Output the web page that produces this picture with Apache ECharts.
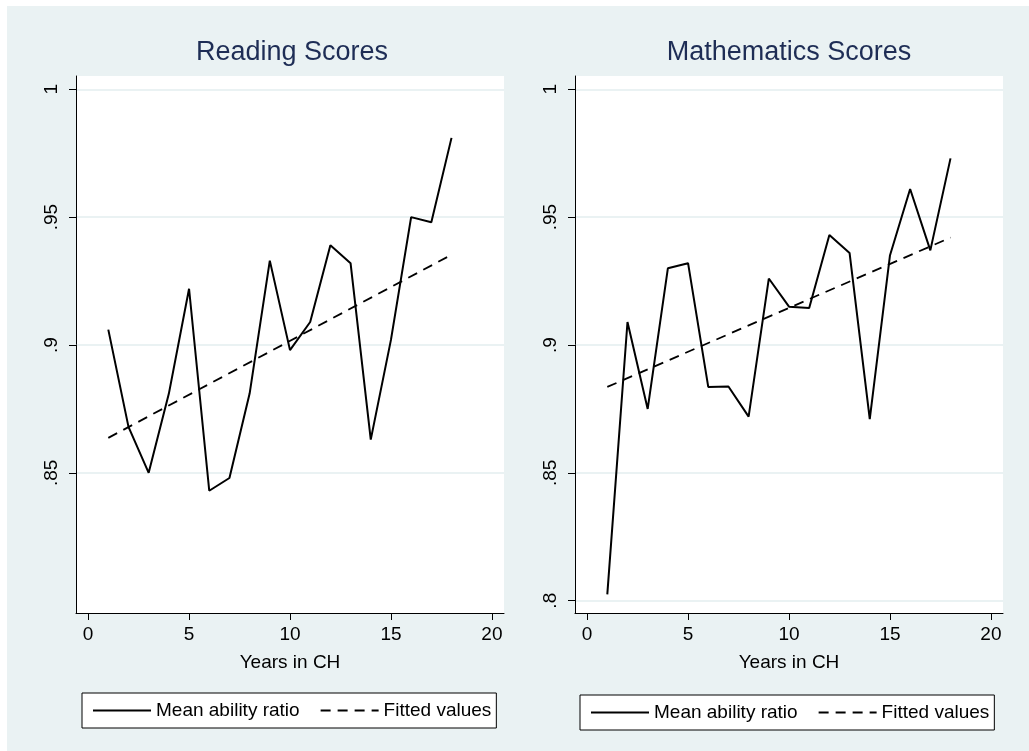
<!DOCTYPE html>
<html>
<head>
<meta charset="utf-8">
<script src="https://cdn.jsdelivr.net/npm/echarts@6/dist/echarts.min.js"></script>
<style>
  html, body { margin: 0; padding: 0; background: #fff; }
  #bg { position: absolute; left: 7px; top: 6px; right: 0; bottom: 0; background: #eaf2f3; }
  #chart { position: absolute; left: 0; top: 0; width: 1029px; height: 751px; }
</style>
</head>
<body>
<div id="bg"></div>
<div id="chart"></div>
<script>
var years = [1, 2, 3, 4, 5, 6, 7, 8, 9, 10, 11, 12, 13, 14, 15, 16, 17, 18];
var readingRatio = [0.906, 0.868, 0.850, 0.881, 0.922, 0.843, 0.848, 0.881, 0.933,
  0.898, 0.909, 0.939, 0.932, 0.863, 0.902, 0.950, 0.948, 0.981];
var mathRatio = [0.8025, 0.909, 0.875, 0.930, 0.932, 0.8836, 0.8838, 0.872, 0.926,
  0.915, 0.9145, 0.943, 0.936, 0.871, 0.935, 0.961, 0.937, 0.973];
var fitYears = [1, 18];
var readingFit = [0.8637, 0.9353];
var mathFit = [0.8836, 0.942];

var xTicks = [0, 5, 10, 15, 20];
var readingTicks = [0.85, 0.9, 0.95, 1];
var mathTicks = [0.8, 0.85, 0.9, 0.95, 1];

var titles = ["Reading Scores", "Mathematics Scores"];
var seriesNames = ["Mean ability ratio", "Fitted values"];

function pairs(xs, ys) {
  return xs.map(function (x, i) { return [x, ys[i]]; });
}

var font = "Liberation Sans, Arial, sans-serif";

function xAxisFor(idx) {
  return {
    type: "value",
    gridIndex: idx,
    min: -0.6,
    max: 20.6,
    name: "Years in CH",
    nameLocation: "middle",
    nameGap: 40,
    nameTextStyle: { color: "#000", fontSize: 19, fontFamily: font },
    axisLine: { show: true, onZero: false, lineStyle: { color: "#000", width: 1 } },
    axisTick: { show: true, length: 7, customValues: xTicks, lineStyle: { color: "#000", width: 1 } },
    axisLabel: { customValues: xTicks, margin: 12, color: "#000", fontSize: 19, fontFamily: font },
    splitLine: { show: false }
  };
}

function yAxisFor(idx, ticks) {
  return {
    type: "value",
    gridIndex: idx,
    min: 0.7952,
    max: 1.0052,
    axisLine: { show: true, onZero: false, lineStyle: { color: "#000", width: 1 } },
    axisTick: { show: true, length: 7, customValues: ticks, lineStyle: { color: "#000", width: 1 } },
    axisLabel: {
      customValues: ticks,
      rotate: 90,
      margin: 15,
      color: "#000",
      fontSize: 19,
      fontFamily: font,
      formatter: function (v) { return String(+v.toFixed(2)).replace(/^0\./, "."); }
    },
    splitLine: { show: true, lineStyle: { color: "#eaf2f3", width: 2 } }
  };
}

function legendFor(left, top) {
  return {
    left: left,
    top: top,
    orient: "horizontal",
    data: seriesNames,
    backgroundColor: "#fff",
    borderColor: "#000",
    borderWidth: 1,
    borderRadius: 0,
    padding: [7, 5, 7, 10],
    itemWidth: 58,
    itemHeight: 21,
    itemGap: 20,
    selectedMode: false,
    itemStyle: { opacity: 0 },
    textStyle: { color: "#000", fontSize: 19, fontFamily: font, lineHeight: 21 }
  };
}

function lineSeries(name, idx, data, dashed) {
  return {
    name: name,
    type: "line",
    xAxisIndex: idx,
    yAxisIndex: idx,
    data: data,
    symbol: "none",
    lineStyle: { color: "#000", width: dashed ? 1.8 : 2, type: dashed ? [10, 7] : "solid" },
    itemStyle: { color: "#000" }
  };
}

var chart = echarts.init(document.getElementById("chart"));
chart.setOption({
  animation: false,
  backgroundColor: "transparent",
  title: [
    { text: titles[0], left: 292, top: 39, padding: 0, textAlign: "center",
      textStyle: { color: "#1e2d55", fontSize: 27, fontWeight: "normal", fontFamily: font } },
    { text: titles[1], left: 789, top: 39, padding: 0, textAlign: "center",
      textStyle: { color: "#1e2d55", fontSize: 27, fontWeight: "normal", fontFamily: font } }
  ],
  legend: [legendFor(82, 693), legendFor(580, 695)],
  grid: [
    { left: 76, top: 76, width: 428, height: 537, show: true, backgroundColor: "#fff", borderWidth: 0 },
    { left: 575, top: 76, width: 428, height: 537, show: true, backgroundColor: "#fff", borderWidth: 0 }
  ],
  xAxis: [xAxisFor(0), xAxisFor(1)],
  yAxis: [yAxisFor(0, readingTicks), yAxisFor(1, mathTicks)],
  series: [
    lineSeries(seriesNames[0], 0, pairs(years, readingRatio), false),
    lineSeries(seriesNames[1], 0, pairs(fitYears, readingFit), true),
    lineSeries(seriesNames[0], 1, pairs(years, mathRatio), false),
    lineSeries(seriesNames[1], 1, pairs(fitYears, mathFit), true)
  ]
});
</script>
</body>
</html>
